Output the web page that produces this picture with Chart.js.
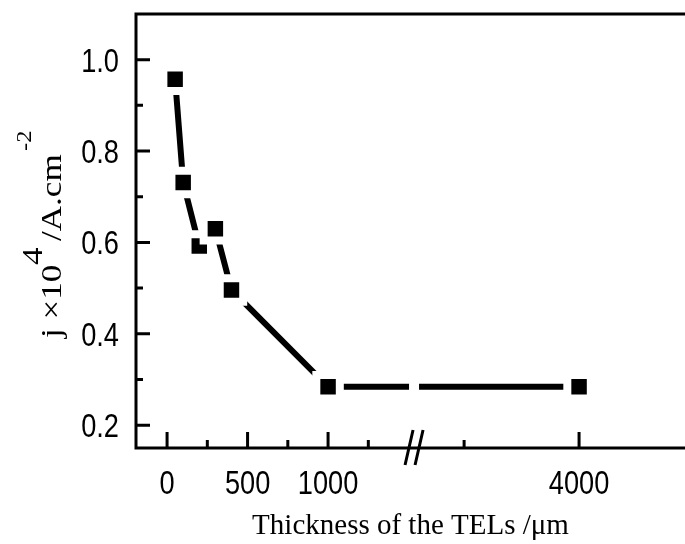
<!DOCTYPE html>
<html>
<head>
<meta charset="utf-8">
<script src="https://cdn.jsdelivr.net/npm/chart.js@4.4.0/dist/chart.umd.min.js"></script>
<style>
  html,body{margin:0;padding:0;background:#fff}
  #wrap{width:685px;height:544px;position:relative}
</style>
</head>
<body>
<div id="wrap"><canvas id="c"></canvas></div>
<script>
const thickness = [50, 100, 200, 300, 400, 1000, 4000];
const currentDensity = [0.957, 0.731, 0.592, 0.630, 0.496, 0.284, 0.284];
const xMajorTicks = [0, 500, 1000, 4000];
const xMinorTicks = [250, 750, 1250, 3500];
const yMajorTicks = [0.2, 0.4, 0.6, 0.8, 1.0];
const yMinorTicks = [0.3, 0.5, 0.7, 0.9];
const xTitle = 'Thickness of the TELs /\u03bcm';

// broken x axis: left part keeps its scale, the 4000 side is squeezed in after the break
const BREAK_AT = 1534;
function axisPos(v){ return v <= 1500 ? v : 2559 + (v - 4000) * 1.428; }

const SANS = '"Liberation Sans", Arial, sans-serif';
const SERIF = '"Liberation Serif", "Times New Roman", serif';
const NARROW = 0.8; // the original figure is squeezed sideways

// library ticks, labels written squeezed like the original
function drawLabels(ctx, s, horizontal, a){
  ctx.save();
  ctx.font = '34px ' + SANS;
  ctx.fillStyle = '#000';
  s.ticks.forEach((t, i)=>{
    const text = t.label != null ? t.label : '';
    const p = s.getPixelForValue(t.value);
    ctx.save();
    if(horizontal){
      ctx.translate(p, a.bottom + 46);
      ctx.scale(NARROW, 1);
      ctx.textAlign = 'center';
    } else {
      ctx.translate(a.left - 17, p + 12);
      ctx.scale(NARROW, 1);
      ctx.textAlign = 'right';
    }
    ctx.textBaseline = 'alphabetic';
    ctx.fillText(text, 0, 0);
    ctx.restore();
  });
  ctx.restore();
}

const frame = {
  id: 'frame',
  afterDatasetsDraw(chart){
    const {ctx, chartArea:a, scales:{x}} = chart;
    const bx = x.getPixelForValue(BREAK_AT);
    ctx.save();
    ctx.fillStyle = '#fff';
    ctx.fillRect(bx-5, a.top+3, 10, a.bottom-a.top-6);
    ctx.restore();
  },
  afterDraw(chart){
    const {ctx, chartArea:a, scales:{x,y}} = chart;
    ctx.save();
    ctx.strokeStyle = '#000';
    ctx.lineWidth = 3;
    ctx.beginPath();
    ctx.moveTo(a.right, a.top); ctx.lineTo(a.left, a.top);
    ctx.lineTo(a.left, a.bottom); ctx.lineTo(a.right, a.bottom);
    ctx.stroke();

    // inward ticks
    ctx.beginPath();
    xMajorTicks.forEach(v=>{ const p = x.getPixelForValue(axisPos(v)); ctx.moveTo(p, a.bottom); ctx.lineTo(p, a.bottom-16); });
    xMinorTicks.forEach(v=>{ const p = x.getPixelForValue(axisPos(v)); ctx.moveTo(p, a.bottom); ctx.lineTo(p, a.bottom-8); });
    yMajorTicks.forEach(v=>{ const p = y.getPixelForValue(v); ctx.moveTo(a.left, p); ctx.lineTo(a.left+14, p); });
    yMinorTicks.forEach(v=>{ const p = y.getPixelForValue(v); ctx.moveTo(a.left, p); ctx.lineTo(a.left+7, p); });
    ctx.stroke();

    // break marks
    const bx = x.getPixelForValue(BREAK_AT);
    ctx.beginPath();
    ctx.moveTo(bx-9, a.bottom+17); ctx.lineTo(bx-1, a.bottom-18);
    ctx.moveTo(bx+1, a.bottom+17); ctx.lineTo(bx+9, a.bottom-18);
    ctx.stroke();

    drawLabels(ctx, x, true, a);
    drawLabels(ctx, y, false, a);

    // y title with superscripts, rotated
    ctx.translate(61, 338);
    ctx.rotate(-Math.PI/2);
    ctx.fillStyle = '#000';
    ctx.textBaseline = 'alphabetic';
    const sx = 1.17;
    const parts = [
      {t:'j \u00d710', at:0, dy:0, size:30},
      {t:'4', at:73, dy:-19, size:30},
      {t:'/A.cm', at:97, dy:0, size:30},
      {t:'-2', at:187, dy:-30, size:21}
    ];
    parts.forEach(p=>{
      ctx.save();
      ctx.translate(p.at, p.dy);
      ctx.scale(sx, 1);
      ctx.font = p.size + 'px ' + SERIF;
      ctx.fillText(p.t, 0, 0);
      ctx.restore();
    });
    ctx.restore();
  }
};

new Chart(document.getElementById('c'), {
  type: 'line',
  data: {
    datasets: [{
      data: thickness.map((t,i)=>({x: axisPos(t), y: currentDensity[i]})),
      borderColor: '#000',
      borderWidth: 6,
      tension: 0,
      pointStyle: 'rect',
      pointRadius: 16.6,
      pointBackgroundColor: '#000',
      pointBorderColor: '#fff',
      pointBorderWidth: 8
    }]
  },
  options: {
    responsive: true,
    maintainAspectRatio: false,
    animation: false,
    events: [],
    layout: {autoPadding: false, padding: {top: 14, left: 0, right: 0, bottom: 0}},
    plugins: {legend: {display: false}, tooltip: {enabled: false}},
    scales: {
      x: {
        type: 'linear', min: -193, max: 3217,
        afterBuildTicks(s){ s.ticks = xMajorTicks.map(v=>({value: axisPos(v)})); },
        afterFit(s){ s.height = 96; },
        grid: {display: false, drawTicks: false},
        border: {display: false},
        ticks: {display: false, autoSkip: false, callback: (v, i) => String(xMajorTicks[i])},
        title: {display: true, text: xTitle, color: '#000', font: {family: SERIF, size: 29}, padding: {top: 0, bottom: 0}}
      },
      y: {
        type: 'linear', min: 0.15, max: 1.1,
        afterBuildTicks(s){ s.ticks = yMajorTicks.map(v=>({value: v})); },
        afterFit(s){ s.width = 136; },
        grid: {display: false, drawTicks: false},
        border: {display: false},
        ticks: {display: false, callback: v => v.toFixed(1)}
      }
    }
  },
  plugins: [frame]
});
</script>
</body>
</html>
